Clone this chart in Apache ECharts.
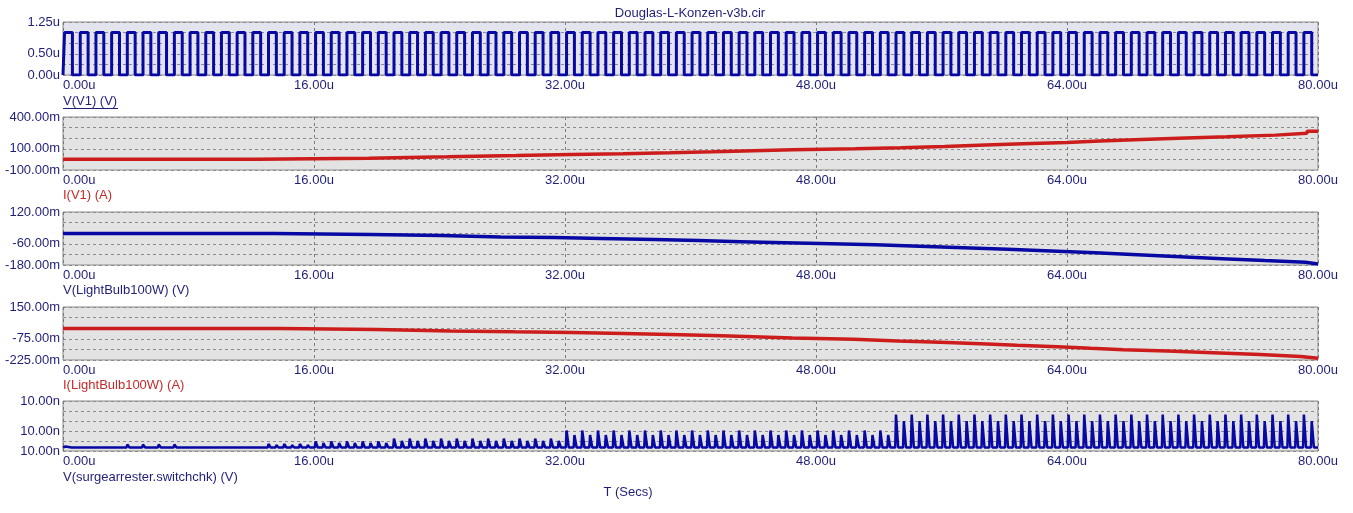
<!DOCTYPE html>
<html><head><meta charset="utf-8">
<script src="https://cdn.jsdelivr.net/npm/echarts@6/dist/echarts.min.js"></script>
<style>html,body{margin:0;padding:0;background:#fff}#c{width:1353px;height:513px}</style>
</head><body><div id="c"></div>
<script>
// ---------------- DATA ----------------
const chartTitle = 'Douglas-L-Konzen-v3b.cir';
const xAxisTitle = 'T (Secs)';
const seriesNames = ['V(V1) (V)', 'I(V1) (A)', 'V(LightBulb100W) (V)', 'I(LightBulb100W) (A)', 'V(surgearrester.switchchk) (V)'];

// x axis (time, in microseconds)
const xTicks = [0, 16, 32, 48, 64, 80];
const xTickLabels = ['0.00u', '16.00u', '32.00u', '48.00u', '64.00u', '80.00u'];

// y axes: [min, max, grid step]
const yRange1 = [0, 1.25, 0.25];
const yRange2 = [-100, 400, 100];
const yRange3 = [-180, 120, 60];
const yRange4 = [-225, 150, 75];
const yRange5 = [0, 5, 1];
const yTicks1 = [0, 0.5, 1.25],     yLabels1 = ['0.00u', '0.50u', '1.25u'];
const yTicks2 = [-100, 100, 400],   yLabels2 = ['-100.00m', '100.00m', '400.00m'];
const yTicks3 = [-180, -60, 120],   yLabels3 = ['-180.00m', '-60.00m', '120.00m'];
const yTicks4 = [-225, -75, 150],   yLabels4 = ['-225.00m', '-75.00m', '150.00m'];
const yTicks5 = [0, 2, 5],          yLabels5 = ['10.00n', '10.00n', '10.00n'];

// V(V1): pulse train (u units) - rising / falling edge times
const v1Low = 0, v1High = 1.0;
const riseT = [0.1,1.1,2.1,3.1,4.1,5.1,6.1,7.1,8.1,9.1,10.1,11.1,12.1,13.1,14.1,15.1,16.1,17.1,18.1,19.1,
  20.1,21.1,22.1,23.1,24.1,25.1,26.1,27.1,28.1,29.1,30.1,31.1,32.1,33.1,34.1,35.1,36.1,37.1,38.1,39.1,
  40.1,41.1,42.1,43.1,44.1,45.1,46.1,47.1,48.1,49.1,50.1,51.1,52.1,53.1,54.1,55.1,56.1,57.1,58.1,59.1,
  60.1,61.1,62.1,63.1,64.1,65.1,66.1,67.1,68.1,69.1,70.1,71.1,72.1,73.1,74.1,75.1,76.1,77.1,78.1,79.1];
const fallT = [0.6,1.6,2.6,3.6,4.6,5.6,6.6,7.6,8.6,9.6,10.6,11.6,12.6,13.6,14.6,15.6,16.6,17.6,18.6,19.6,
  20.6,21.6,22.6,23.6,24.6,25.6,26.6,27.6,28.6,29.6,30.6,31.6,32.6,33.6,34.6,35.6,36.6,37.6,38.6,39.6,
  40.6,41.6,42.6,43.6,44.6,45.6,46.6,47.6,48.6,49.6,50.6,51.6,52.6,53.6,54.6,55.6,56.6,57.6,58.6,59.6,
  60.6,61.6,62.6,63.6,64.6,65.6,66.6,67.6,68.6,69.6,70.6,71.6,72.6,73.6,74.6,75.6,76.6,77.6,78.6,79.6];

// I(V1) staircase (m units)
const iv1T = [0, 12.4, 19.5, 24.5, 28.9, 32.4, 35.7, 38.7, 41.4, 44.0, 46.5, 50.5, 53.4, 56.2, 58.8, 61.2, 64.0, 66.1, 68.3, 71.1, 74.2, 77.3, 79.3, 80];
const iv1V = [2, 12, 24, 36, 47, 54, 63, 72, 81, 90, 100, 110, 122, 135, 147, 160, 173, 186, 199, 213, 229, 247, 266, 266];

// V(LightBulb100W) staircase (m units)
const vbT = [0, 13.4, 19.6, 24.1, 27.9, 31.3, 34.3, 37.7, 40.5, 43.2, 46.0, 49.0, 51.8, 54.6, 57.4, 60.2, 63.0, 65.8, 68.5, 71.2, 73.9, 76.6, 79.2, 80];
const vbV = [-1, -7, -13, -21, -25, -30, -36, -42, -48, -54, -60, -66, -74, -82, -91, -101, -111, -122, -133, -144, -155, -165, -174, -174];

// I(LightBulb100W) staircase (m units)
const ibT = [0, 13.8, 20.0, 24.7, 28.8, 32.4, 35.7, 38.7, 41.4, 44.0, 46.5, 50.4, 53.2, 55.9, 58.5, 60.8, 63.4, 65.5, 67.6, 70.4, 73.3, 76.3, 78.9, 80];
const ibV = [-2, -9, -19, -26, -31, -37, -44, -52, -61, -70, -79, -90, -100, -110, -120, -131, -142, -152, -162, -173, -186, -200, -212, -212];

// V(surgearrester.switchchk): baseline and spike peaks at each edge (grid-division units)
const swBase = 0.35;
const spikeA = [0.45,0.45,0.45,0.45,0.65,0.65,0.65,0.65,0.45,0.45,0.45,0.45,0.45,0.7,0.7,0.7,
  0.95,0.95,0.95,0.95,0.95,1.25,1.25,1.25,1.25,1.25,1.25,1.25,1.25,1.25,1.25,1.25,
  2.05,2.05,2.05,2.05,2.05,2.05,2.05,2.05,2.05,2.05,2.05,2.05,2.05,2.05,2.05,2.05,2.05,2.05,2.05,2.05,2.05,
  3.65,3.65,3.65,3.65,3.65,3.65,3.65,3.65,3.65,3.65,3.65,3.65,3.65,3.65,3.65,3.65,3.65,3.65,3.65,3.65,3.65,3.65,3.65,3.65,3.65,3.65,3.65];
const spikeB = [0.4,0.4,0.4,0.4,0.5,0.5,0.5,0.5,0.4,0.4,0.4,0.4,0.4,0.6,0.6,0.6,
  0.8,0.8,0.8,0.8,0.8,1.0,1.0,1.0,1.0,1.0,1.0,1.0,1.0,1.0,1.0,1.0,
  1.6,1.6,1.6,1.6,1.6,1.6,1.6,1.6,1.6,1.6,1.6,1.6,1.6,1.6,1.6,1.6,1.6,1.6,1.6,1.6,1.6,
  3.0,3.0,3.0,3.0,3.0,3.0,3.0,3.0,3.0,3.0,3.0,3.0,3.0,3.0,3.0,3.0,3.0,3.0,3.0,3.0,3.0,3.0,3.0,3.0,3.0,3.0,3.0];

// ---------------- BUILD ----------------
const BLUE = '#0808a4', RED = '#cc1c1c', NAVY = '#1f1f7a', LRED = '#c42a2a';
const FONT = '"Liberation Sans", Arial, sans-serif';

const sqData = [[0, v1Low]];
for (let k = 0; k < riseT.length; k++) {
  sqData.push([riseT[k], v1Low], [riseT[k], v1High], [fallT[k], v1High], [fallT[k], v1Low]);
}
sqData.push([80, v1Low]);

const zip = (t, v) => t.map((x, i) => [x, v[i]]);

const swData = [[0, swBase]];
for (let k = 0; k < riseT.length; k++) {
  const a = riseT[k], b = fallT[k];
  swData.push([a - 0.05, swBase], [a, spikeA[k]], [a + 0.06, spikeA[k]], [a + 0.14, swBase]);
  swData.push([b - 0.05, swBase], [b, spikeB[k]], [b + 0.06, spikeB[k]], [b + 0.14, swBase]);
}
swData.push([80, swBase]);

const gridTops = [22, 117, 212, 307, 401];
const gridHeights = [53, 53, 53, 53, 50];
const bgs = ['#e4e4ef', '#e3e3e3', '#e3e3e3', '#e3e3e3', '#e3e3e3'];
const yRanges = [yRange1, yRange2, yRange3, yRange4, yRange5];
const yTicks = [yTicks1, yTicks2, yTicks3, yTicks4, yTicks5];
const yLabels = [yLabels1, yLabels2, yLabels3, yLabels4, yLabels5];

const lookup = (vals, labs) => v => {
  for (let i = 0; i < vals.length; i++) if (Math.abs(v - vals[i]) < 1e-6) return labs[i];
  return '';
};

const grids = [], xAxes = [], yAxes = [];
for (let i = 0; i < 5; i++) {
  grids.push({ left: 63, width: 1255, top: gridTops[i], height: gridHeights[i], show: true,
    backgroundColor: bgs[i], borderColor: '#8a8a8a', borderWidth: 1, containLabel: false });
  xAxes.push({ type: 'value', gridIndex: i, min: xTicks[0], max: xTicks[xTicks.length - 1], interval: 16,
    axisLine: { show: false }, axisTick: { show: false },
    axisLabel: { formatter: lookup(xTicks, xTickLabels), color: NAVY, fontSize: 13, fontFamily: FONT, margin: 4,
      alignMinLabel: 'left', alignMaxLabel: 'center' },
    splitLine: { show: true, lineStyle: { color: '#7a7a7a', type: [3, 3], width: 1 } } });
  yAxes.push({ type: 'value', gridIndex: i, min: yRanges[i][0], max: yRanges[i][1], interval: yRanges[i][2],
    axisLine: { show: false }, axisTick: { show: false },
    axisLabel: { formatter: lookup(yTicks[i], yLabels[i]), color: NAVY, fontSize: 13, fontFamily: FONT, margin: 3 },
    splitLine: { show: true, lineStyle: { color: '#8c8c8c', type: [3, 3], width: 1 } } });
}

const base = { type: 'line', showSymbol: false, symbol: 'none', animation: false, silent: true };
const series = [
  Object.assign({}, base, { name: seriesNames[0], xAxisIndex: 0, yAxisIndex: 0, data: sqData,
    lineStyle: { color: BLUE, width: 3 } }),
  Object.assign({}, base, { name: seriesNames[1], xAxisIndex: 1, yAxisIndex: 1, data: zip(iv1T, iv1V), step: 'end',
    lineStyle: { color: RED, width: 3.5 } }),
  Object.assign({}, base, { name: seriesNames[2], xAxisIndex: 2, yAxisIndex: 2, data: zip(vbT, vbV), step: 'end',
    lineStyle: { color: BLUE, width: 3.5 } }),
  Object.assign({}, base, { name: seriesNames[3], xAxisIndex: 3, yAxisIndex: 3, data: zip(ibT, ibV), step: 'end',
    lineStyle: { color: RED, width: 3.5 } }),
  Object.assign({}, base, { name: seriesNames[4], xAxisIndex: 4, yAxisIndex: 4, data: swData,
    lineStyle: { color: BLUE, width: 2.5 } })
];

const labelY = [101, 195, 290, 385, 477];
const labelColors = [NAVY, LRED, NAVY, LRED, NAVY];
const graphic = [
  { type: 'text', x: 690, y: 13, style: { text: chartTitle, fill: NAVY, font: '13px ' + FONT, align: 'center', verticalAlign: 'middle' } },
  { type: 'text', x: 628, y: 492, style: { text: xAxisTitle, fill: NAVY, font: '13px ' + FONT, align: 'center', verticalAlign: 'middle' } }
];
for (let i = 0; i < 5; i++) {
  graphic.push({ type: 'text', x: 63, y: labelY[i], style: { text: seriesNames[i], fill: labelColors[i], font: '13px ' + FONT, align: 'left', verticalAlign: 'middle' } });
}
graphic.push({ type: 'line', shape: { x1: 63, y1: 108.5, x2: 118, y2: 108.5 }, style: { stroke: NAVY, lineWidth: 1 } });

const chart = echarts.init(document.getElementById('c'), null, { renderer: 'canvas' });
chart.setOption({ animation: false, backgroundColor: '#ffffff', grid: grids, xAxis: xAxes, yAxis: yAxes, series: series, graphic: graphic });
</script></body></html>
